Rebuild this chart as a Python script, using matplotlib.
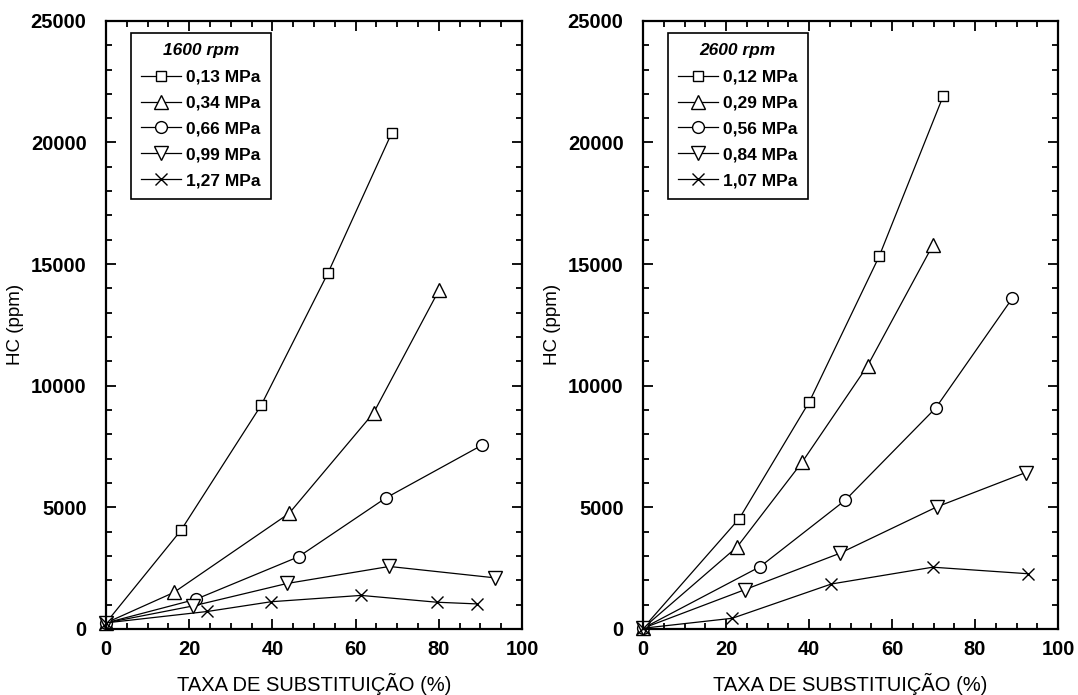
import matplotlib
matplotlib.use("Agg")
import matplotlib.pyplot as plt
from matplotlib.ticker import MultipleLocator

plt.rcParams['font.family'] = ['Liberation Sans', 'DejaVu Sans']

# ---- dados: 1600 rpm ----
titulo_1600 = "1600 rpm"
rotulos_1600 = ["0,13 MPa", "0,34 MPa", "0,66 MPa", "0,99 MPa", "1,27 MPa"]
x_1600 = [
    [0, 18.0, 37.3, 53.4, 68.7],
    [0, 16.3, 44.0, 64.3, 80.0],
    [0, 21.6, 46.3, 67.2, 90.4],
    [0, 21.0, 43.5, 68.1, 93.6],
    [0, 24.4, 39.7, 61.3, 79.5, 89.2],
]
y_1600 = [
    [250, 4050, 9200, 14650, 20400],
    [250, 1500, 4750, 8880, 13920],
    [250, 1220, 2970, 5380, 7560],
    [250, 950, 1870, 2570, 2100],
    [250, 720, 1120, 1380, 1100, 1030],
]

# ---- dados: 2600 rpm ----
titulo_2600 = "2600 rpm"
rotulos_2600 = ["0,12 MPa", "0,29 MPa", "0,56 MPa", "0,84 MPa", "1,07 MPa"]
x_2600 = [
    [0, 23.2, 40.1, 56.9, 72.3],
    [0, 22.7, 38.3, 54.1, 69.9],
    [0, 28.2, 48.7, 70.5, 89.0],
    [0, 24.6, 47.4, 70.8, 92.2],
    [0, 21.5, 45.4, 69.8, 92.8],
]
y_2600 = [
    [30, 4540, 9350, 15320, 21900],
    [30, 3380, 6850, 10820, 15800],
    [30, 2560, 5290, 9080, 13600],
    [30, 1620, 3110, 5020, 6430],
    [30, 440, 1850, 2540, 2270],
]

marcadores = ['s', '^', 'o', 'v', 'x']
tamanhos = [7.5, 9.5, 8.5, 9.5, 9]

fig = plt.figure(figsize=(10.78, 6.95), dpi=100)
ax1 = fig.add_axes([0.0983, 0.095, 0.386, 0.875])
ax2 = fig.add_axes([0.5965, 0.095, 0.385, 0.875])


def desenha(ax, xs, ys, rotulos, titulo):
    for xx, yy, lab, m, ms in zip(xs, ys, rotulos, marcadores, tamanhos):
        ax.plot(xx, yy, color='black', lw=0.9, marker=m, ms=ms,
                mfc='white', mec='black', mew=1.0, label=lab, clip_on=False)
    ax.set_xlim(0, 100)
    ax.set_ylim(0, 25000)
    ax.xaxis.set_major_locator(MultipleLocator(20))
    ax.xaxis.set_minor_locator(MultipleLocator(5))
    ax.yaxis.set_major_locator(MultipleLocator(5000))
    ax.yaxis.set_minor_locator(MultipleLocator(1000))
    ax.tick_params(which='both', direction='in', top=True, right=True, width=1.3)
    ax.tick_params(which='major', length=7)
    ax.tick_params(which='minor', length=4)
    ax.tick_params(axis='x', pad=8)
    ax.tick_params(axis='y', pad=14)
    for lbl in ax.get_xticklabels() + ax.get_yticklabels():
        lbl.set_fontsize(14.5)
        lbl.set_fontweight('bold')
    for s in ax.spines.values():
        s.set_linewidth(1.6)
    ax.set_xlabel("TAXA DE SUBSTITUIÇÃO (%)", fontsize=14.5, labelpad=10)
    ax.set_ylabel("HC (ppm)", fontsize=13.5, labelpad=5)
    leg = ax.legend(loc='upper left', bbox_to_anchor=(0.06, 0.98), borderaxespad=0,
                    fancybox=False, edgecolor='black', framealpha=1,
                    prop={'weight': 'bold', 'size': 12.5}, title=titulo,
                    title_fontproperties={'weight': 'bold', 'style': 'italic', 'size': 12.5},
                    handlelength=2.3, handletextpad=0.25, labelspacing=0.62,
                    borderpad=0.6)
    leg.get_frame().set_linewidth(1.2)
    leg._legend_box.sep = 8


desenha(ax1, x_1600, y_1600, rotulos_1600, titulo_1600)
desenha(ax2, x_2600, y_2600, rotulos_2600, titulo_2600)

fig.savefig("out.png", dpi=100)
